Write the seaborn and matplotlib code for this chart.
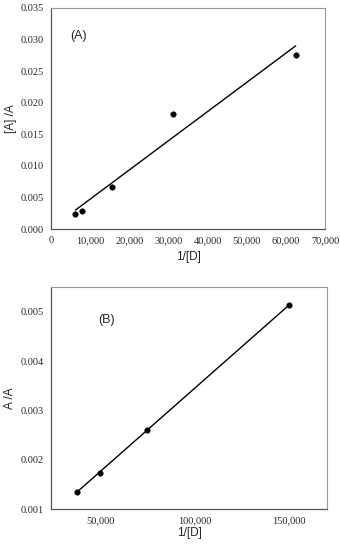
import numpy as np
import pandas as pd
import matplotlib
matplotlib.use("Agg")
import matplotlib.pyplot as plt
import seaborn as sns
from matplotlib.ticker import FuncFormatter

# Panel (A) data
a_x = [6250, 7812.5, 15625, 31250, 62500]
a_y = [0.0023, 0.0029, 0.0067, 0.0182, 0.0275]

# Panel (B) data
b_x = [37500, 50000, 75000, 150000]
b_y = [0.00135, 0.00174, 0.00261, 0.00514]

sns.set_style("white")
serif = ["Liberation Serif", "DejaVu Serif"]
sans = ["Liberation Sans", "DejaVu Sans"]

fig = plt.figure(figsize=(3.4, 5.5), dpi=100)
ax_a = fig.add_axes([0.15, 0.5836, 0.806, 0.402])
ax_b = fig.add_axes([0.15, 0.0745, 0.812, 0.4035])

comma = FuncFormatter(lambda v, p: f"{v:,.0f}")


def panel(ax, xs, ys, ylabel, xlim, ylim, xticks, yticks):
    df = pd.DataFrame({"x": xs, "y": ys})
    sns.scatterplot(data=df, x="x", y="y", ax=ax, color="black", s=16,
                    edgecolor="black", zorder=3)
    k, b = np.polyfit(df["x"], df["y"], 1)
    fx = np.array([df["x"].min(), df["x"].max()])
    sns.lineplot(x=fx, y=k * fx + b, ax=ax, color="black", linewidth=1.0)
    ax.set_xlim(*xlim)
    ax.set_ylim(*ylim)
    ax.set_xticks(xticks)
    ax.set_yticks(yticks)
    ax.xaxis.set_major_formatter(comma)
    ax.yaxis.set_major_formatter(FuncFormatter(lambda v, p: f"{v:.3f}"))
    ax.tick_params(length=0, labelsize=7.5, pad=5)
    for lab in ax.get_xticklabels() + ax.get_yticklabels():
        lab.set_family(serif)
    ax.set_xlabel("1/[D]", family=sans, fontsize=8.5)
    ax.set_ylabel(ylabel, family=sans, fontsize=8.5)
    ax.yaxis.set_label_coords(-0.125, 0.5)
    for side in ["left", "bottom"]:
        ax.spines[side].set_color("#555555")
        ax.spines[side].set_linewidth(0.9)
    for side in ["top", "right"]:
        ax.spines[side].set_color("#999999")
        ax.spines[side].set_linewidth(0.8)
    return ax


panel(ax_a, a_x, a_y, "[A] /A", (0, 70000), (0, 0.035),
      np.arange(0, 70001, 10000), np.arange(0, 0.0351, 0.005))
ax_a.xaxis.set_label_coords(0.5, -0.10)
ax_a.text(0.07, 0.86, "(A)", transform=ax_a.transAxes, family=sans, fontsize=9)

panel(ax_b, b_x, b_y, "A /A", (24000, 170000), (0.001, 0.0055),
      [50000, 100000, 150000], [0.001, 0.002, 0.003, 0.004, 0.005])
ax_b.xaxis.set_label_coords(0.5, -0.08)
ax_b.text(0.17, 0.84, "(B)", transform=ax_b.transAxes, family=sans, fontsize=9)

plt.savefig("out.png", dpi=100)
